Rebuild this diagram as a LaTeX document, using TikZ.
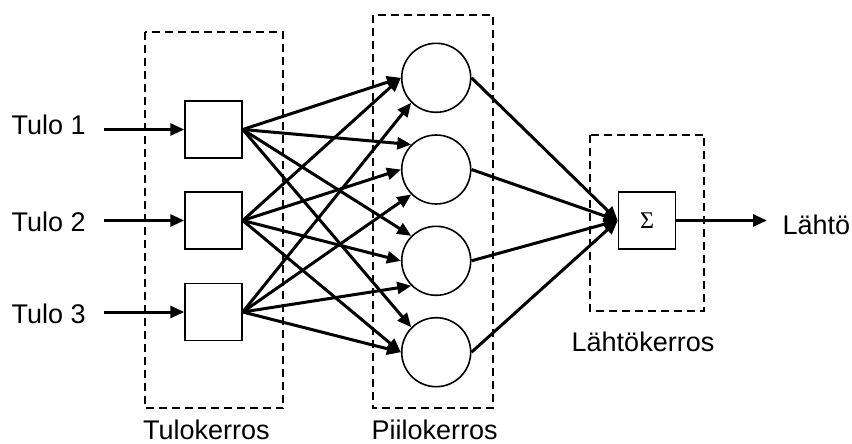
\documentclass[tikz,border=0pt]{standalone}
\usepackage{fontspec}
\setmainfont{Liberation Sans}
\newfontfamily\sigmafont{Liberation Serif}
\usetikzlibrary{arrows.meta}
\tikzset{
  lbl/.style={font=\fontsize{27}{30}\selectfont, inner sep=0pt, anchor=base west},
  layerbox/.style={draw, line width=2.3pt, dash pattern=on 8pt off 5pt},
  inbox/.style={draw, line width=1.5pt, minimum size=57pt, inner sep=0pt},
  neuron/.style={draw, circle, line width=1.6pt, minimum size=69pt, inner sep=0pt},
  conn/.style={line width=3pt, -{Triangle[length=14pt,width=12pt]}},
}
\begin{document}
\begin{tikzpicture}[x=1pt,y=-1pt]
\useasboundingbox (0,0) rectangle (852,444);
% layer boxes
\draw[layerbox] (145,32) rectangle (283,408.3);
\draw[layerbox] (372.7,15) rectangle (492.8,408.3);
\draw[layerbox] (590,135) rectangle (704.3,311);
% nodes
\node[inbox] (i1) at (213.5,129.5) {};
\node[inbox] (i2) at (213.5,220.5) {};
\node[inbox] (i3) at (213.5,312) {};
\node[neuron] (h1) at (436.2,77.8) {};
\node[neuron] (h2) at (436.2,169.5) {};
\node[neuron] (h3) at (436.2,260.8) {};
\node[neuron] (h4) at (436.2,352.2) {};
\node[inbox] (s) at (647,220.5) {\sigmafont\fontsize{24}{26}\selectfont Σ};
% labels
\node[lbl] (t1) at (11.5,135) {Tulo 1};
\node[lbl] (t2) at (11.5,231.7) {Tulo 2};
\node[lbl] (t3) at (11.5,323.3) {Tulo 3};
\node[lbl] (out) at (782.5,234) {Lähtö};
\node[lbl] (l1) at (143,439.5) {Tulokerros};
\node[lbl] (l2) at (371.5,439.5) {Piilokerros};
\node[lbl] (l3) at (571.5,351.7) {Lähtökerros};
% input arrows
\coordinate (a1) at (104,129.5);
\coordinate (a2) at (104,220.5);
\coordinate (a3) at (104,312);
\coordinate (o) at (767,220.5);
\draw[conn] (a1) -- (i1.west);
\draw[conn] (a2) -- (i2.west);
\draw[conn] (a3) -- (i3.west);
% input -> hidden
\draw[conn] (i1.east) -- (h1.west);
\draw[conn] (i1.east) -- (h2.135);
\draw[conn] (i1.east) -- (h3.135);
\draw[conn] (i1.east) -- (h4.135);
\draw[conn] (i2.east) -- (h1.west);
\draw[conn] (i2.east) -- (h2.west);
\draw[conn] (i2.east) -- (h3.west);
\draw[conn] (i2.east) -- (h4.west);
\draw[conn] (i3.east) -- (h1.225);
\draw[conn] (i3.east) -- (h2.225);
\draw[conn] (i3.east) -- (h3.225);
\draw[conn] (i3.east) -- (h4.west);
% hidden -> output
\draw[conn] (h1.east) -- (s.west);
\draw[conn] (h2.east) -- (s.west);
\draw[conn] (h3.east) -- (s.west);
\draw[conn] (h4.east) -- (s.west);
\draw[conn] (s.east) -- (o);
\end{tikzpicture}
\end{document}
